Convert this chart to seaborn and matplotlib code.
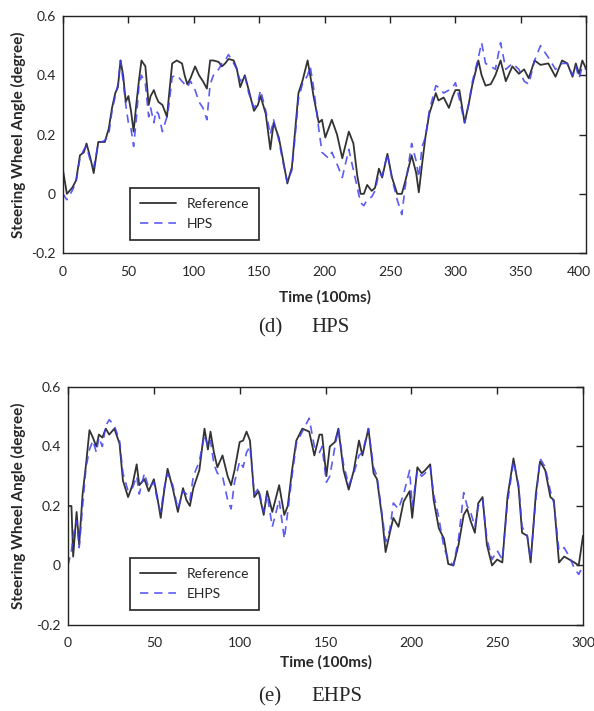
import numpy as np
import pandas as pd
import matplotlib
matplotlib.use('Agg')
import matplotlib.pyplot as plt
import matplotlib.transforms as mtrans
import seaborn as sns

# ---- datos ----
# (d) HPS
t_d = [0, 3, 7, 10, 13, 16, 18, 21, 23.5, 27, 32, 35, 37.5, 40, 42, 44, 46, 48, 50, 52,
       54, 56, 58, 60, 63, 65.5, 67, 69.5, 71, 73, 76, 79.5, 81, 83.5, 87, 91, 93, 95, 97.5, 101,
       104, 107, 110, 112.5, 115, 119, 121.5, 124, 126.5, 130.5, 133, 135.5, 139, 142, 146, 149, 151, 155, 158.5, 161,
       165, 168, 171.5, 175, 178, 180, 183, 187, 189, 191.5, 195.5, 198, 200.5, 203, 205.5, 209.5, 213.5, 218.5, 222, 225,
       227.5, 230, 232.5, 236, 238.5, 241.5, 244, 248, 251.5, 255.5, 259, 261.5, 266.5, 270, 272, 274.5, 277, 280, 285, 287,
       291, 295, 298, 300, 303, 307, 310, 313, 317.5, 320, 323, 327, 330.5, 334.5, 338.5, 343.5, 348.5, 352.5, 356, 360.5,
       365, 371, 376.5, 381.5, 385.5, 389.5, 392, 394.5, 397, 400]
ref_d = [0.08, 0.00, 0.02, 0.045, 0.13, 0.14, 0.17, 0.12, 0.07, 0.175, 0.175, 0.22, 0.29, 0.34, 0.36, 0.45, 0.40, 0.31, 0.33, 0.28,
         0.21, 0.30, 0.38, 0.45, 0.43, 0.30, 0.33, 0.35, 0.33, 0.31, 0.30, 0.26, 0.33, 0.44, 0.45, 0.44, 0.40, 0.37, 0.39, 0.43,
         0.40, 0.38, 0.355, 0.45, 0.45, 0.445, 0.43, 0.44, 0.455, 0.45, 0.42, 0.36, 0.40, 0.35, 0.28, 0.30, 0.33, 0.27, 0.15, 0.24,
         0.19, 0.12, 0.035, 0.09, 0.24, 0.34, 0.38, 0.45, 0.40, 0.33, 0.24, 0.25, 0.19, 0.22, 0.25, 0.20, 0.12, 0.21, 0.17, 0.06,
         0.0, 0.0, 0.03, 0.01, 0.02, 0.085, 0.055, 0.135, 0.055, 0.0, 0.0, 0.04, 0.13, 0.07, 0.005, 0.10, 0.19, 0.27, 0.34, 0.315,
         0.325, 0.29, 0.33, 0.35, 0.35, 0.24, 0.30, 0.37, 0.45, 0.40, 0.365, 0.37, 0.40, 0.45, 0.38, 0.43, 0.405, 0.42, 0.39, 0.45,
         0.435, 0.44, 0.395, 0.45, 0.44, 0.395, 0.44, 0.405, 0.45, 0.42]
hps = [0.0, -0.02, 0.01, 0.04, 0.12, 0.15, 0.16, 0.11, 0.09, 0.17, 0.18, 0.20, 0.28, 0.33, 0.37, 0.45, 0.38, 0.30, 0.24, 0.22,
       0.16, 0.25, 0.36, 0.40, 0.37, 0.26, 0.29, 0.24, 0.28, 0.27, 0.21, 0.26, 0.30, 0.395, 0.40, 0.38, 0.37, 0.36, 0.38, 0.35,
       0.31, 0.29, 0.25, 0.37, 0.40, 0.42, 0.44, 0.45, 0.47, 0.44, 0.42, 0.38, 0.40, 0.34, 0.29, 0.31, 0.35, 0.28, 0.20, 0.25,
       0.18, 0.11, 0.04, 0.08, 0.22, 0.32, 0.37, 0.40, 0.43, 0.36, 0.22, 0.14, 0.13, 0.12, 0.14, 0.10, 0.055, 0.15, 0.08, 0.02,
       -0.03, -0.04, -0.02, -0.01, 0.01, 0.07, 0.06, 0.135, 0.05, -0.02, -0.07, 0.02, 0.17, 0.11, 0.055, 0.16, 0.19, 0.28, 0.365, 0.36,
       0.34, 0.35, 0.36, 0.375, 0.32, 0.24, 0.30, 0.38, 0.46, 0.51, 0.44, 0.43, 0.42, 0.51, 0.42, 0.44, 0.42, 0.38, 0.37, 0.45,
       0.50, 0.46, 0.42, 0.44, 0.44, 0.40, 0.43, 0.39, 0.43, 0.42]

# (e) EHPS
t_e = [0, 2, 3, 5, 6.5, 8.5, 10.5, 12.5, 14.5, 16.5, 18, 20, 22, 24, 27, 30, 32, 35, 37.5, 40,
       41.5, 44.5, 47, 50, 52, 54, 56, 58, 61, 64, 67, 69, 71, 73, 76.5, 79.5, 81.5, 83, 85, 87,
       90, 93, 95, 97, 100, 102, 104, 106, 108.5, 111, 114, 116, 119, 123, 126, 128, 130.5, 133, 136.5, 140.5,
       143.5, 146.5, 148, 150.5, 152.5, 155.5, 157.5, 160.5, 163.5, 166.5, 169.5, 171.5, 175, 178, 180, 183, 185, 187.5, 189.5, 192.5,
       195.5, 199, 200.5, 203.5, 206, 208, 211, 213, 216, 219, 221.5, 224.5, 227.5, 230.5, 232.5, 234.5, 237, 239, 241.5, 244,
       247, 250, 253, 256, 259.5, 262.5, 264.5, 267.5, 269.5, 272.5, 275, 278, 281, 283, 286, 289, 292, 295, 297.5, 300]
ref_e = [0.20, 0.20, 0.03, 0.18, 0.07, 0.24, 0.34, 0.455, 0.43, 0.40, 0.44, 0.43, 0.46, 0.44, 0.46, 0.41, 0.285, 0.23, 0.27, 0.34,
         0.27, 0.29, 0.25, 0.29, 0.23, 0.16, 0.25, 0.325, 0.26, 0.18, 0.26, 0.22, 0.20, 0.26, 0.32, 0.46, 0.39, 0.45, 0.38, 0.33,
         0.37, 0.30, 0.27, 0.32, 0.415, 0.42, 0.45, 0.42, 0.23, 0.25, 0.17, 0.25, 0.18, 0.27, 0.17, 0.20, 0.32, 0.42, 0.46, 0.45,
         0.37, 0.44, 0.44, 0.30, 0.40, 0.415, 0.46, 0.32, 0.255, 0.32, 0.42, 0.37, 0.46, 0.31, 0.29, 0.16, 0.045, 0.11, 0.16, 0.13,
         0.215, 0.25, 0.16, 0.33, 0.31, 0.32, 0.34, 0.22, 0.125, 0.09, 0.005, 0.0, 0.07, 0.17, 0.19, 0.15, 0.11, 0.21, 0.23, 0.07,
         0.0, 0.02, 0.01, 0.23, 0.36, 0.26, 0.11, 0.10, 0.01, 0.24, 0.35, 0.32, 0.23, 0.22, 0.01, 0.03, 0.02, 0.01, 0.0, 0.10]
ehps = [0.00, 0.05, 0.10, 0.15, 0.06, 0.20, 0.33, 0.39, 0.42, 0.38, 0.43, 0.40, 0.47, 0.49, 0.47, 0.42, 0.31, 0.25, 0.26, 0.30,
        0.24, 0.31, 0.26, 0.28, 0.22, 0.18, 0.26, 0.31, 0.27, 0.19, 0.25, 0.24, 0.22, 0.30, 0.35, 0.44, 0.40, 0.42, 0.34, 0.31,
        0.30, 0.22, 0.19, 0.28, 0.35, 0.33, 0.38, 0.40, 0.24, 0.26, 0.18, 0.24, 0.13, 0.22, 0.09, 0.18, 0.30, 0.41, 0.45, 0.495,
        0.40, 0.38, 0.40, 0.28, 0.30, 0.40, 0.46, 0.34, 0.27, 0.31, 0.37, 0.38, 0.46, 0.33, 0.30, 0.17, 0.08, 0.12, 0.21, 0.19,
        0.24, 0.32, 0.20, 0.32, 0.30, 0.31, 0.33, 0.24, 0.16, 0.06, 0.02, 0.0, 0.09, 0.245, 0.20, 0.18, 0.13, 0.20, 0.22, 0.09,
        0.02, 0.05, 0.02, 0.21, 0.35, 0.27, 0.13, 0.10, 0.02, 0.22, 0.36, 0.33, 0.25, 0.21, 0.05, 0.06, 0.03, -0.01, -0.03, 0.00]

ytick_vals = [-0.2, 0, 0.2, 0.4, 0.6]
ytick_txt = ['-0.2', '0', '0.2', '0.4', '0.6']

sns.set_style('white')
plt.rcParams['font.family'] = ['Lato', 'DejaVu Sans']

fig = plt.figure(figsize=(5.94, 7.11), dpi=100)
ax1 = fig.add_axes([0.106, 0.644, 0.881, 0.3335])
ax2 = fig.add_axes([0.1145, 0.121, 0.867, 0.3347])

gris = '#333333'
azul = '#3f3ff2'


def panel(ax, t, ref, sim, nombre, xmax, xstep, leg_xy, xpad):
    df = pd.DataFrame({'t': t, 'ref': ref, 'sim': sim})
    sns.lineplot(data=df, x='t', y='ref', ax=ax, color=gris, lw=1.3, label='Reference',
                 estimator=None, sort=False)
    sns.lineplot(data=df, x='t', y='sim', ax=ax, color=azul, lw=1.2, label=nombre,
                 estimator=None, sort=False, linestyle=(0, (5, 3.5)), alpha=0.85)
    ax.set_xlim(0, xmax)
    ax.set_ylim(-0.2, 0.6)
    ax.set_xticks(np.arange(0, xmax + 1, xstep))
    ax.set_yticks(ytick_vals)
    ax.set_yticklabels(ytick_txt)
    ax.tick_params(direction='in', top=True, right=True, length=5, width=1,
                   labelsize=10, color='#222222', pad=5)
    ax.tick_params(axis='x', pad=9)
    for s in ax.spines.values():
        s.set_color('#222222')
        s.set_linewidth(1)
    ax.set_xlabel('Time (100ms)', fontsize=11, fontweight='bold', labelpad=xpad)
    ax.set_ylabel('Steering Wheel Angle (degree)', fontsize=11, fontweight='bold', labelpad=4)
    leg = ax.legend(loc='lower left', bbox_to_anchor=leg_xy, borderaxespad=0, fontsize=10,
                    fancybox=False, edgecolor='#222222', framealpha=1, handlelength=2.6,
                    borderpad=0.7, labelspacing=0.6)
    leg.get_frame().set_linewidth(1.2)


panel(ax1, t_d, ref_d, hps, 'HPS', 400, 50, (0.128, 0.055), 9)
panel(ax2, t_e, ref_e, ehps, 'EHPS', 300, 50, (0.12, 0.063), 4)
ax1.yaxis.set_label_coords(-0.071, 0.5)
ax2.yaxis.set_label_coords(-0.082, 0.5)

# el "400" un poco a la izquierda para que no se corte
lab = ax1.get_xticklabels()[-1]
lab.set_transform(lab.get_transform() + mtrans.ScaledTranslation(-5 / 72, 0, fig.dpi_scale_trans))

fig.text(0.434, 0.539, '(d)', fontsize=15, family='Liberation Serif', va='center')
fig.text(0.525, 0.539, 'HPS', fontsize=15, family='Liberation Serif', va='center')
fig.text(0.434, 0.02, '(e)', fontsize=15, family='Liberation Serif', va='center')
fig.text(0.525, 0.02, 'EHPS', fontsize=15, family='Liberation Serif', va='center')

fig.savefig('out.png', dpi=100)
